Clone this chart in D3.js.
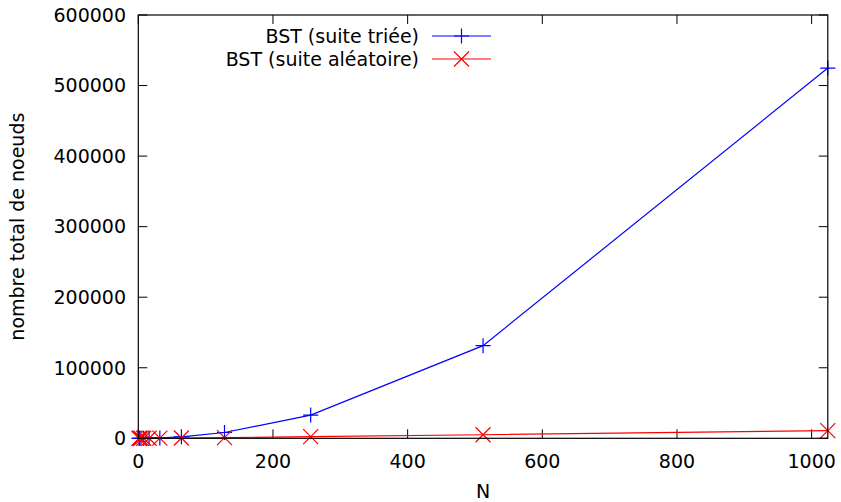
<!DOCTYPE html>
<html>
<head>
<meta charset="utf-8">
<script src="https://cdn.jsdelivr.net/npm/d3@7"></script>
<style>
  html, body { margin: 0; padding: 0; background: #fff; }
  svg { display: block; }
  text { font-family: "DejaVu Sans", sans-serif; font-size: 19px; fill: #000; }
</style>
</head>
<body>
<svg id="chart" width="841" height="502"></svg>
<script>
// ---- data ----
const nValues = [1, 2, 4, 8, 16, 32, 64, 128, 256, 512, 1024];
const sortedTotals = [1, 3, 10, 36, 136, 528, 2080, 8256, 32896, 131328, 524800];
const randomTotals = [1, 3, 9, 26, 70, 180, 430, 1000, 2300, 5000, 10900];
const xTicks = [0, 200, 400, 600, 800, 1000];
const yTicks = [0, 100000, 200000, 300000, 400000, 500000, 600000];
const seriesLabels = ["BST (suite triée)", "BST (suite aléatoire)"];
const xLabel = "N";
const yLabel = "nombre total de noeuds";

const svg = d3.select("#chart");
const L = 138.3, R = 827.8, T = 15, B = 438.3;
const x = d3.scaleLinear().domain([0, 1024]).range([L, R]);
const y = d3.scaleLinear().domain([0, 600000]).range([B, T]);
const tickLen = 9;

// ticks
const g = svg.append("g");
xTicks.forEach(v => {
  g.append("line").attr("x1", x(v)).attr("x2", x(v)).attr("y1", B).attr("y2", B - tickLen).attr("stroke", "#000");
  g.append("line").attr("x1", x(v)).attr("x2", x(v)).attr("y1", T).attr("y2", T + tickLen).attr("stroke", "#000");
  g.append("text").attr("x", x(v)).attr("y", 468).attr("text-anchor", "middle").text(v);
});
yTicks.forEach(v => {
  g.append("line").attr("x1", L).attr("x2", L + tickLen).attr("y1", y(v)).attr("y2", y(v)).attr("stroke", "#000");
  g.append("line").attr("x1", R).attr("x2", R - tickLen).attr("y1", y(v)).attr("y2", y(v)).attr("stroke", "#000");
  g.append("text").attr("x", 126).attr("y", y(v)).attr("dy", "0.36em").attr("text-anchor", "end").text(v);
});

// axis labels
svg.append("text").attr("x", (L + R) / 2).attr("y", 498).attr("text-anchor", "middle").text(xLabel);
svg.append("text").attr("transform", `translate(24,${(T + B) / 2}) rotate(-90)`).attr("text-anchor", "middle").text(yLabel);

// series
const series = [
  { values: sortedTotals, color: "#0000ff", marker: "plus" },
  { values: randomTotals, color: "#ff0000", marker: "cross" }
];
const ms = 7.5;
function drawMarker(sel, cx, cy, type, color) {
  if (type === "plus") {
    sel.append("path").attr("d", `M${cx - ms},${cy}H${cx + ms}M${cx},${cy - ms}V${cy + ms}`)
      .attr("stroke", color).attr("stroke-width", 1.2).attr("fill", "none");
  } else {
    sel.append("path").attr("d", `M${cx - ms},${cy - ms}L${cx + ms},${cy + ms}M${cx - ms},${cy + ms}L${cx + ms},${cy - ms}`)
      .attr("stroke", color).attr("stroke-width", 1.2).attr("fill", "none");
  }
}
const line = d3.line().x(d => x(d[0])).y(d => y(d[1]));
series.forEach(s => {
  const pts = nValues.map((n, i) => [n, s.values[i]]);
  const sg = svg.append("g");
  sg.append("path").attr("d", line(pts)).attr("fill", "none").attr("stroke", s.color).attr("stroke-width", 1.2);
  pts.forEach(p => drawMarker(sg, x(p[0]), y(p[1]), s.marker, s.color));
});

// legend
const legY = [36, 59];
series.forEach((s, i) => {
  const lg = svg.append("g");
  lg.append("text").attr("x", 419).attr("y", legY[i]).attr("dy", "0.36em").attr("text-anchor", "end").text(seriesLabels[i]);
  lg.append("line").attr("x1", 432).attr("x2", 491).attr("y1", legY[i]).attr("y2", legY[i]).attr("stroke", s.color).attr("stroke-width", 1.2);
  drawMarker(lg, 461.5, legY[i], s.marker, s.color);
});

// border
svg.append("rect").attr("x", L).attr("y", T).attr("width", R - L).attr("height", B - T)
  .attr("fill", "none").attr("stroke", "#000").attr("stroke-width", 1.2);
</script>
</body>
</html>
